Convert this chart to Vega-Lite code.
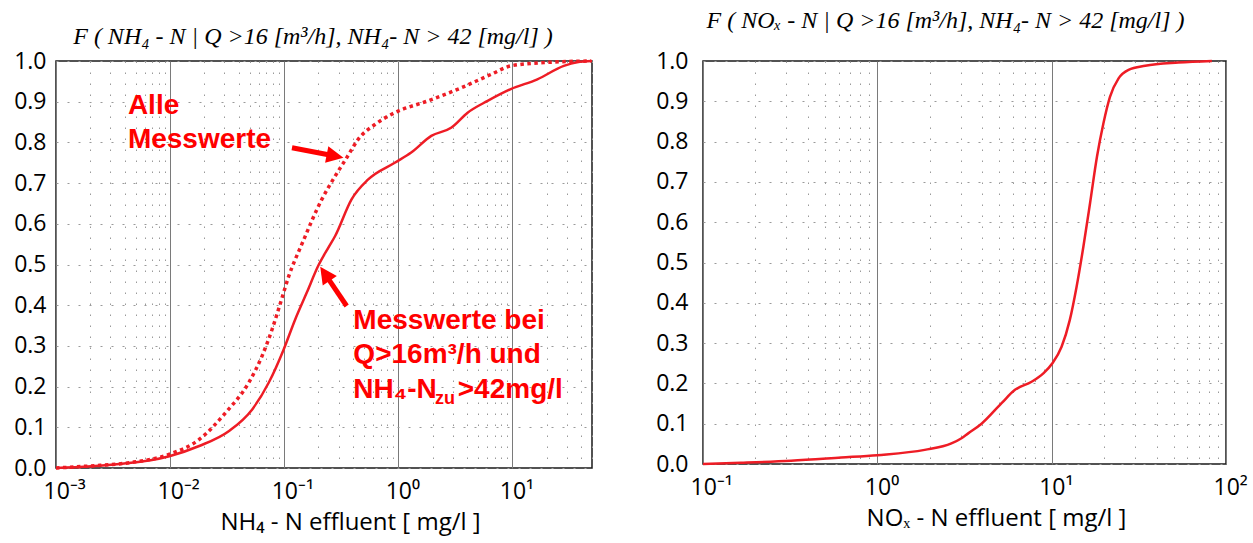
{
  "$schema": "https://vega.github.io/schema/vega-lite/v6.json",
  "background": "white",
  "padding": {"left": 12, "top": 8, "right": 5, "bottom": 5},
  "spacing": 55,
  "config": {
    "view": {"stroke": "#1a1a1a", "strokeWidth": 1.5},
    "axis": {
      "domain": false,
      "ticks": false,
      "labelFont": "Open Sans",
      "labelFontSize": 23,
      "labelColor": "#000000",
      "titleColor": "#000000",
      "titleFont": "Open Sans",
      "titleFontSize": 24,
      "titleFontWeight": "normal",
      "gridColor": "#9a9a9a",
      "gridWidth": 1
    },
    "title": {"font": "Liberation Serif", "fontStyle": "italic", "fontWeight": "normal", "fontSize": 24, "color": "#000000"}
  },
  "datasets": {
    "nh4_alle": [
      {"conc": 0.001, "F": 0.0},
      {"conc": 0.00198, "F": 0.005},
      {"conc": 0.0044, "F": 0.013},
      {"conc": 0.0099, "F": 0.034},
      {"conc": 0.018, "F": 0.07},
      {"conc": 0.0307, "F": 0.136},
      {"conc": 0.049, "F": 0.21},
      {"conc": 0.064, "F": 0.275},
      {"conc": 0.0785, "F": 0.341},
      {"conc": 0.093, "F": 0.406},
      {"conc": 0.11, "F": 0.472},
      {"conc": 0.143, "F": 0.55},
      {"conc": 0.214, "F": 0.66},
      {"conc": 0.28, "F": 0.717},
      {"conc": 0.353, "F": 0.762},
      {"conc": 0.447, "F": 0.808},
      {"conc": 0.625, "F": 0.844},
      {"conc": 0.933, "F": 0.873},
      {"conc": 1.82, "F": 0.902},
      {"conc": 3.56, "F": 0.934},
      {"conc": 6.5, "F": 0.967},
      {"conc": 9.7, "F": 0.988},
      {"conc": 19, "F": 0.996},
      {"conc": 49, "F": 1.0}
    ],
    "nh4_q16": [
      {"conc": 0.001, "F": 0.0},
      {"conc": 0.0034, "F": 0.009},
      {"conc": 0.00986, "F": 0.029},
      {"conc": 0.018, "F": 0.054},
      {"conc": 0.0329, "F": 0.091},
      {"conc": 0.0525, "F": 0.144},
      {"conc": 0.0734, "F": 0.21},
      {"conc": 0.0993, "F": 0.292},
      {"conc": 0.125, "F": 0.365},
      {"conc": 0.158, "F": 0.431},
      {"conc": 0.2, "F": 0.498},
      {"conc": 0.245, "F": 0.542},
      {"conc": 0.28, "F": 0.57},
      {"conc": 0.39, "F": 0.66},
      {"conc": 0.546, "F": 0.709},
      {"conc": 0.933, "F": 0.75},
      {"conc": 1.3, "F": 0.775},
      {"conc": 1.95, "F": 0.816},
      {"conc": 2.91, "F": 0.836},
      {"conc": 4.06, "F": 0.873},
      {"conc": 6.08, "F": 0.902},
      {"conc": 9.7, "F": 0.931},
      {"conc": 16.6, "F": 0.955},
      {"conc": 28.3, "F": 0.988},
      {"conc": 37, "F": 0.997},
      {"conc": 50, "F": 1.0}
    ],
    "nox": [
      {"conc": 0.1, "F": 0.0},
      {"conc": 0.165, "F": 0.003},
      {"conc": 0.32, "F": 0.008},
      {"conc": 0.62, "F": 0.016},
      {"conc": 1.0, "F": 0.022},
      {"conc": 1.87, "F": 0.035},
      {"conc": 2.66, "F": 0.051},
      {"conc": 3.04, "F": 0.064},
      {"conc": 3.32, "F": 0.076},
      {"conc": 3.96, "F": 0.1},
      {"conc": 5.16, "F": 0.151},
      {"conc": 6.16, "F": 0.184},
      {"conc": 7.67, "F": 0.204},
      {"conc": 8.96, "F": 0.225},
      {"conc": 10.1, "F": 0.25},
      {"conc": 11.4, "F": 0.291},
      {"conc": 12.7, "F": 0.357},
      {"conc": 13.9, "F": 0.44},
      {"conc": 15.2, "F": 0.539},
      {"conc": 16.6, "F": 0.647},
      {"conc": 18.2, "F": 0.763},
      {"conc": 19.8, "F": 0.845},
      {"conc": 21.6, "F": 0.911},
      {"conc": 24.2, "F": 0.957},
      {"conc": 27.6, "F": 0.978},
      {"conc": 34.4, "F": 0.988},
      {"conc": 53.4, "F": 0.996},
      {"conc": 83, "F": 1.0}
    ]
  },
  "hconcat": [
    {
      "width": 536,
      "height": 407,
      "data": {"values": [{}]},
      "title": {"text": "F ( NH₄ - N | Q >16 [m³/h], NH₄- N > 42 [mg/l] )", "offset": 1, "dx": -11},
      "layer": [
        {
          "data": {"name": "nh4_alle"},
          "mark": {"type": "line", "color": "#ee1c25", "strokeWidth": 3.5, "strokeDash": [3.5, 3.5], "interpolate": "monotone"},
          "encoding": {
            "x": {
              "field": "conc", "type": "quantitative",
              "scale": {"type": "log", "domain": [0.001, 50], "nice": false},
              "axis": {
                "values": [0.001, 0.002, 0.003, 0.004, 0.005, 0.006, 0.007, 0.008, 0.009, 0.01, 0.02, 0.03, 0.04, 0.05, 0.06, 0.07, 0.08, 0.09, 0.1, 0.2, 0.3, 0.4, 0.5, 0.6, 0.7, 0.8, 0.9, 1, 2, 3, 4, 5, 6, 7, 8, 9, 10, 20, 30, 40, 50],
                "title": "NH₄ - N effluent  [ mg/l ]",
                "titleX": 294,
                "titlePadding": 7,
                "labelExpr": "datum.value == 0.001 ? '10⁻³' : datum.value == 0.01 ? '10⁻²' : datum.value == 0.1 ? '10⁻¹' : datum.value == 1 ? '10⁰' : datum.value == 10 ? '10¹' : ''",
                "labelOverlap": false,
                "labelFlush": false,
                "labelAlign": "left",
                "labelOffset": -13,
                "labelPadding": 12,
                "grid": true,
                "gridDash": {"condition": {"test": "abs(log(datum.value)/LN10 - round(log(datum.value)/LN10)) < 1e-6", "value": []}, "value": [1.5, 9.5]},
                "gridColor": {"condition": {"test": "abs(log(datum.value)/LN10 - round(log(datum.value)/LN10)) < 1e-6", "value": "#7a7a7a"}, "value": "#9a9a9a"}
              }
            },
            "y": {
              "field": "F", "type": "quantitative",
              "scale": {"domain": [0, 1], "nice": false},
              "axis": {"values": [0, 0.1, 0.2, 0.3, 0.4, 0.5, 0.6, 0.7, 0.8, 0.9, 1.0], "format": ".1f", "title": null, "grid": true, "gridDash": [2, 9], "labelPadding": 10}
            }
          }
        },
        {
          "data": {"name": "nh4_q16"},
          "mark": {"type": "line", "color": "#ee1c25", "strokeWidth": 2.5, "interpolate": "monotone"},
          "encoding": {
            "x": {"field": "conc", "type": "quantitative", "scale": {"type": "log", "domain": [0.001, 50], "nice": false}},
            "y": {"field": "F", "type": "quantitative", "scale": {"domain": [0, 1], "nice": false}}
          }
        },
        {
          "mark": {"type": "text", "text": ["Alle", "Messwerte"], "align": "left", "baseline": "alphabetic", "font": "Liberation Sans", "fontWeight": "bold", "fontSize": 28, "lineHeight": 33.4, "color": "#ff0000"},
          "encoding": {
            "x": {"datum": 0.004269, "type": "quantitative", "scale": {"type": "log", "domain": [0.001, 50], "nice": false}},
            "y": {"datum": 0.869, "type": "quantitative", "scale": {"domain": [0, 1], "nice": false}}
          }
        },
        {
          "mark": {"type": "text", "text": ["Messwerte bei", "Q>16m³/h und", "NH₄-N"], "align": "left", "baseline": "alphabetic", "font": "Liberation Sans", "fontWeight": "bold", "fontSize": 28, "lineHeight": 34.5, "color": "#ff0000"},
          "encoding": {
            "x": {"datum": 0.4044, "type": "quantitative", "scale": {"type": "log", "domain": [0.001, 50], "nice": false}},
            "y": {"datum": 0.3423, "type": "quantitative", "scale": {"domain": [0, 1], "nice": false}}
          }
        },
        {
          "mark": {"type": "text", "text": "zu", "align": "left", "baseline": "alphabetic", "font": "Liberation Sans", "fontWeight": "bold", "fontSize": 18, "color": "#ff0000"},
          "encoding": {
            "x": {"datum": 2.097, "type": "quantitative", "scale": {"type": "log", "domain": [0.001, 50], "nice": false}},
            "y": {"datum": 0.158, "type": "quantitative", "scale": {"domain": [0, 1], "nice": false}}
          }
        },
        {
          "mark": {"type": "text", "text": ">42mg/l", "align": "left", "baseline": "alphabetic", "font": "Liberation Sans", "fontWeight": "bold", "fontSize": 28, "color": "#ff0000"},
          "encoding": {
            "x": {"datum": 3.327, "type": "quantitative", "scale": {"type": "log", "domain": [0.001, 50], "nice": false}},
            "y": {"datum": 0.1727, "type": "quantitative", "scale": {"domain": [0, 1], "nice": false}}
          }
        },
        {
          "mark": {"type": "rule", "color": "#ff0000", "strokeWidth": 5},
          "encoding": {
            "x": {"datum": 0.1172, "type": "quantitative", "scale": {"type": "log", "domain": [0.001, 50], "nice": false}},
            "y": {"datum": 0.787, "type": "quantitative", "scale": {"domain": [0, 1], "nice": false}},
            "x2": {"datum": 0.2511},
            "y2": {"datum": 0.769}
          }
        },
        {
          "mark": {"type": "point", "shape": "M0,0L-1,-0.5L-1,0.5Z", "size": 1156, "angle": 10.95, "filled": true, "color": "#ff0000", "opacity": 1, "strokeWidth": 0},
          "encoding": {
            "x": {"datum": 0.3309, "type": "quantitative", "scale": {"type": "log", "domain": [0.001, 50], "nice": false}},
            "y": {"datum": 0.7624, "type": "quantitative", "scale": {"domain": [0, 1], "nice": false}}
          }
        },
        {
          "mark": {"type": "rule", "color": "#ff0000", "strokeWidth": 5},
          "encoding": {
            "x": {"datum": 0.3534, "type": "quantitative", "scale": {"type": "log", "domain": [0.001, 50], "nice": false}},
            "y": {"datum": 0.398, "type": "quantitative", "scale": {"domain": [0, 1], "nice": false}},
            "x2": {"datum": 0.2426},
            "y2": {"datum": 0.4661}
          }
        },
        {
          "mark": {"type": "point", "shape": "M0,0L-1,-0.5L-1,0.5Z", "size": 1156, "angle": 235.9, "filled": true, "color": "#ff0000", "opacity": 1, "strokeWidth": 0},
          "encoding": {
            "x": {"datum": 0.2073, "type": "quantitative", "scale": {"type": "log", "domain": [0.001, 50], "nice": false}},
            "y": {"datum": 0.4946, "type": "quantitative", "scale": {"domain": [0, 1], "nice": false}}
          }
        }
      ]
    },
    {
      "width": 523,
      "height": 403,
      "title": {"text": "F ( NOₓ - N | Q >16 [m³/h], NH₄- N > 42 [mg/l] )", "offset": 17, "dx": -19},
      "layer": [
        {
          "data": {"name": "nox"},
          "mark": {"type": "line", "color": "#ee1c25", "strokeWidth": 2.5, "interpolate": "monotone"},
          "encoding": {
            "x": {
              "field": "conc", "type": "quantitative",
              "scale": {"type": "log", "domain": [0.1, 100], "nice": false},
              "axis": {
                "values": [0.1, 0.2, 0.3, 0.4, 0.5, 0.6, 0.7, 0.8, 0.9, 1, 2, 3, 4, 5, 6, 7, 8, 9, 10, 20, 30, 40, 50, 60, 70, 80, 90, 100],
                "title": "NOₓ - N effluent [ mg/l ]",
                "titleX": 293,
                "titlePadding": 7,
                "labelExpr": "datum.value == 0.1 ? '10⁻¹' : datum.value == 1 ? '10⁰' : datum.value == 10 ? '10¹' : datum.value == 100 ? '10²' : ''",
                "labelOverlap": false,
                "labelFlush": false,
                "labelAlign": "left",
                "labelOffset": -13,
                "labelPadding": 12,
                "grid": true,
                "gridDash": {"condition": {"test": "abs(log(datum.value)/LN10 - round(log(datum.value)/LN10)) < 1e-6", "value": []}, "value": [1.5, 9.5]},
                "gridColor": {"condition": {"test": "abs(log(datum.value)/LN10 - round(log(datum.value)/LN10)) < 1e-6", "value": "#7a7a7a"}, "value": "#9a9a9a"}
              }
            },
            "y": {
              "field": "F", "type": "quantitative",
              "scale": {"domain": [0, 1], "nice": false},
              "axis": {"values": [0, 0.1, 0.2, 0.3, 0.4, 0.5, 0.6, 0.7, 0.8, 0.9, 1.0], "format": ".1f", "title": null, "grid": true, "gridDash": [2, 9], "labelPadding": 15}
            }
          }
        }
      ]
    }
  ]
}
